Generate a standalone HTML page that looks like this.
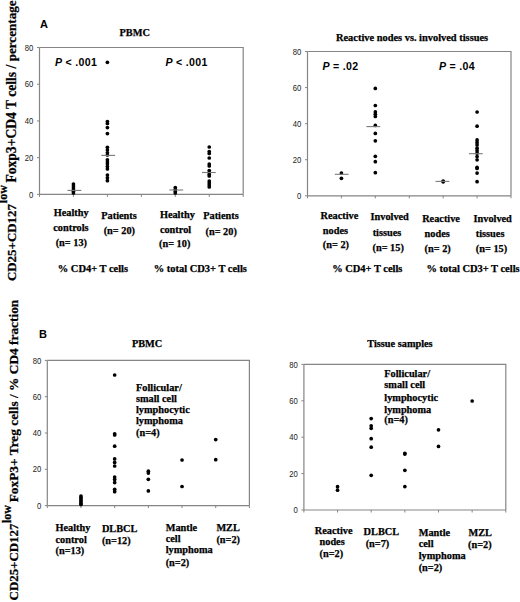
<!DOCTYPE html>
<html><head><meta charset="utf-8"><style>
html,body{margin:0;padding:0;background:#fff;}
svg{display:block;}
</style></head><body>
<svg width="520" height="602" viewBox="0 0 520 602">
<rect width="520" height="602" fill="#fff"/>
<path d="M39.5,194.4 H243.2 M39.5,47.5 V194.4" stroke="#858585" stroke-width="1.2" fill="none"/>
<path d="M39.5,47.5 H243.2 V194.4" stroke="#858585" stroke-width="1.2" fill="none"/>
<line x1="37.0" y1="194.40" x2="39.5" y2="194.40" stroke="#858585" stroke-width="1"/>
<text transform="translate(33.3,197.50) scale(1,1.17)" font-family="'Liberation Sans', sans-serif" font-size="7.7" fill="#222" text-anchor="end">0</text>
<line x1="37.0" y1="157.68" x2="39.5" y2="157.68" stroke="#858585" stroke-width="1"/>
<text transform="translate(33.3,160.78) scale(1,1.17)" font-family="'Liberation Sans', sans-serif" font-size="7.7" fill="#222" text-anchor="end">20</text>
<line x1="37.0" y1="120.95" x2="39.5" y2="120.95" stroke="#858585" stroke-width="1"/>
<text transform="translate(33.3,124.05) scale(1,1.17)" font-family="'Liberation Sans', sans-serif" font-size="7.7" fill="#222" text-anchor="end">40</text>
<line x1="37.0" y1="84.22" x2="39.5" y2="84.22" stroke="#858585" stroke-width="1"/>
<text transform="translate(33.3,87.32) scale(1,1.17)" font-family="'Liberation Sans', sans-serif" font-size="7.7" fill="#222" text-anchor="end">60</text>
<line x1="37.0" y1="47.50" x2="39.5" y2="47.50" stroke="#858585" stroke-width="1"/>
<text transform="translate(33.3,50.60) scale(1,1.17)" font-family="'Liberation Sans', sans-serif" font-size="7.7" fill="#222" text-anchor="end">80</text>
<line x1="39.50" y1="194.4" x2="39.50" y2="196.9" stroke="#858585" stroke-width="1"/>
<line x1="73.45" y1="194.4" x2="73.45" y2="196.9" stroke="#858585" stroke-width="1"/>
<line x1="107.40" y1="194.4" x2="107.40" y2="196.9" stroke="#858585" stroke-width="1"/>
<line x1="141.35" y1="194.4" x2="141.35" y2="196.9" stroke="#858585" stroke-width="1"/>
<line x1="175.30" y1="194.4" x2="175.30" y2="196.9" stroke="#858585" stroke-width="1"/>
<line x1="209.25" y1="194.4" x2="209.25" y2="196.9" stroke="#858585" stroke-width="1"/>
<line x1="243.20" y1="194.4" x2="243.20" y2="196.9" stroke="#858585" stroke-width="1"/>
<circle cx="73.45" cy="184.00" r="1.85" fill="#000"/>
<circle cx="73.45" cy="186.00" r="1.85" fill="#000"/>
<circle cx="73.45" cy="188.00" r="1.85" fill="#000"/>
<circle cx="73.45" cy="190.00" r="1.85" fill="#000"/>
<circle cx="73.45" cy="191.50" r="1.85" fill="#000"/>
<circle cx="73.45" cy="193.00" r="1.85" fill="#000"/>
<line x1="67.55" y1="190.40" x2="81.35" y2="190.40" stroke="#7a7a7a" stroke-width="1.1"/>
<circle cx="107.40" cy="62.30" r="1.85" fill="#000"/>
<circle cx="107.40" cy="121.50" r="1.85" fill="#000"/>
<circle cx="107.40" cy="123.50" r="1.85" fill="#000"/>
<circle cx="107.40" cy="127.60" r="1.85" fill="#000"/>
<circle cx="107.40" cy="133.60" r="1.85" fill="#000"/>
<circle cx="107.40" cy="147.30" r="1.85" fill="#000"/>
<circle cx="107.40" cy="150.00" r="1.85" fill="#000"/>
<circle cx="107.40" cy="152.80" r="1.85" fill="#000"/>
<circle cx="107.40" cy="155.00" r="1.85" fill="#000"/>
<circle cx="107.40" cy="159.80" r="1.85" fill="#000"/>
<circle cx="107.40" cy="162.00" r="1.85" fill="#000"/>
<circle cx="107.40" cy="164.00" r="1.85" fill="#000"/>
<circle cx="107.40" cy="166.50" r="1.85" fill="#000"/>
<circle cx="107.40" cy="169.00" r="1.85" fill="#000"/>
<circle cx="107.40" cy="175.00" r="1.85" fill="#000"/>
<circle cx="107.40" cy="177.80" r="1.85" fill="#000"/>
<circle cx="107.40" cy="180.70" r="1.85" fill="#000"/>
<line x1="101.30" y1="155.40" x2="115.10" y2="155.40" stroke="#7a7a7a" stroke-width="1.1"/>
<circle cx="175.30" cy="187.60" r="1.85" fill="#000"/>
<circle cx="175.30" cy="189.50" r="1.85" fill="#000"/>
<circle cx="175.30" cy="191.50" r="1.85" fill="#000"/>
<circle cx="175.30" cy="193.00" r="1.85" fill="#000"/>
<line x1="169.35" y1="190.00" x2="183.15" y2="190.00" stroke="#7a7a7a" stroke-width="1.1"/>
<circle cx="209.25" cy="147.00" r="1.85" fill="#000"/>
<circle cx="209.25" cy="151.50" r="1.85" fill="#000"/>
<circle cx="209.25" cy="153.50" r="1.85" fill="#000"/>
<circle cx="209.25" cy="158.00" r="1.85" fill="#000"/>
<circle cx="209.25" cy="164.00" r="1.85" fill="#000"/>
<circle cx="209.25" cy="166.00" r="1.85" fill="#000"/>
<circle cx="209.25" cy="170.50" r="1.85" fill="#000"/>
<circle cx="209.25" cy="172.50" r="1.85" fill="#000"/>
<circle cx="209.25" cy="174.50" r="1.85" fill="#000"/>
<circle cx="209.25" cy="176.00" r="1.85" fill="#000"/>
<circle cx="209.25" cy="181.00" r="1.85" fill="#000"/>
<circle cx="209.25" cy="183.00" r="1.85" fill="#000"/>
<circle cx="209.25" cy="185.00" r="1.85" fill="#000"/>
<circle cx="209.25" cy="187.00" r="1.85" fill="#000"/>
<line x1="201.95" y1="172.50" x2="215.75" y2="172.50" stroke="#7a7a7a" stroke-width="1.1"/>
<text x="55" y="65.6" font-family="'Liberation Sans', sans-serif" font-weight="bold" font-size="10.6" letter-spacing="0.3"><tspan font-style="italic">P</tspan> &lt; .001</text>
<text x="165.5" y="65.6" font-family="'Liberation Sans', sans-serif" font-weight="bold" font-size="10.6" letter-spacing="0.3"><tspan font-style="italic">P</tspan> &lt; .001</text>
<text x="40" y="27.5" font-family="'Liberation Sans', sans-serif" font-weight="bold" font-size="11">A</text>
<text x="119.5" y="36.3" font-family="'Liberation Serif', serif" font-weight="bold" stroke="#000" stroke-width="0.25" font-size="10.3" text-anchor="start" >PBMC</text>
<text x="53.7" y="215.6" font-family="'Liberation Serif', serif" font-weight="bold" stroke="#000" stroke-width="0.25" font-size="10.3" text-anchor="start" >Healthy</text>
<text x="53.3" y="230.8" font-family="'Liberation Serif', serif" font-weight="bold" stroke="#000" stroke-width="0.25" font-size="10.3" text-anchor="start" >controls</text>
<text x="55.7" y="245.8" font-family="'Liberation Serif', serif" font-weight="bold" stroke="#000" stroke-width="0.25" font-size="10.3" text-anchor="start" >(n= 13)</text>
<text x="101.3" y="218.8" font-family="'Liberation Serif', serif" font-weight="bold" stroke="#000" stroke-width="0.25" font-size="10.3" text-anchor="start" >Patients</text>
<text x="103.7" y="233.8" font-family="'Liberation Serif', serif" font-weight="bold" stroke="#000" stroke-width="0.25" font-size="10.3" text-anchor="start" >(n= 20)</text>
<text x="159.9" y="217.8" font-family="'Liberation Serif', serif" font-weight="bold" stroke="#000" stroke-width="0.25" font-size="10.3" text-anchor="start" >Healthy</text>
<text x="159.9" y="232.9" font-family="'Liberation Serif', serif" font-weight="bold" stroke="#000" stroke-width="0.25" font-size="10.3" text-anchor="start" >control</text>
<text x="159.0" y="247.0" font-family="'Liberation Serif', serif" font-weight="bold" stroke="#000" stroke-width="0.25" font-size="10.3" text-anchor="start" >(n= 10)</text>
<text x="203.2" y="219.4" font-family="'Liberation Serif', serif" font-weight="bold" stroke="#000" stroke-width="0.25" font-size="10.3" text-anchor="start" >Patients</text>
<text x="205.5" y="234.6" font-family="'Liberation Serif', serif" font-weight="bold" stroke="#000" stroke-width="0.25" font-size="10.3" text-anchor="start" >(n= 20)</text>
<text x="57.8" y="271.5" font-family="'Liberation Serif', serif" font-weight="bold" stroke="#000" stroke-width="0.25" font-size="10.45" text-anchor="start" >% CD4+ T cells</text>
<text x="153.8" y="271.8" font-family="'Liberation Serif', serif" font-weight="bold" stroke="#000" stroke-width="0.25" font-size="10.45" text-anchor="start" >% total CD3+ T cells</text>
<path d="M307.5,195.8 H511 M307.5,51.5 V195.8" stroke="#858585" stroke-width="1.2" fill="none"/>
<path d="M307.5,51.5 H511 V195.8" stroke="#858585" stroke-width="1.2" fill="none"/>
<line x1="305.0" y1="195.80" x2="307.5" y2="195.80" stroke="#858585" stroke-width="1"/>
<text transform="translate(301.2,198.90) scale(1,1.17)" font-family="'Liberation Sans', sans-serif" font-size="7.7" fill="#222" text-anchor="end">0</text>
<line x1="305.0" y1="159.73" x2="307.5" y2="159.73" stroke="#858585" stroke-width="1"/>
<text transform="translate(301.2,162.83) scale(1,1.17)" font-family="'Liberation Sans', sans-serif" font-size="7.7" fill="#222" text-anchor="end">20</text>
<line x1="305.0" y1="123.65" x2="307.5" y2="123.65" stroke="#858585" stroke-width="1"/>
<text transform="translate(301.2,126.75) scale(1,1.17)" font-family="'Liberation Sans', sans-serif" font-size="7.7" fill="#222" text-anchor="end">40</text>
<line x1="305.0" y1="87.58" x2="307.5" y2="87.58" stroke="#858585" stroke-width="1"/>
<text transform="translate(301.2,90.67) scale(1,1.17)" font-family="'Liberation Sans', sans-serif" font-size="7.7" fill="#222" text-anchor="end">60</text>
<line x1="305.0" y1="51.50" x2="307.5" y2="51.50" stroke="#858585" stroke-width="1"/>
<text transform="translate(301.2,54.60) scale(1,1.17)" font-family="'Liberation Sans', sans-serif" font-size="7.7" fill="#222" text-anchor="end">80</text>
<line x1="307.50" y1="195.8" x2="307.50" y2="198.3" stroke="#858585" stroke-width="1"/>
<line x1="341.42" y1="195.8" x2="341.42" y2="198.3" stroke="#858585" stroke-width="1"/>
<line x1="375.33" y1="195.8" x2="375.33" y2="198.3" stroke="#858585" stroke-width="1"/>
<line x1="409.25" y1="195.8" x2="409.25" y2="198.3" stroke="#858585" stroke-width="1"/>
<line x1="443.17" y1="195.8" x2="443.17" y2="198.3" stroke="#858585" stroke-width="1"/>
<line x1="477.08" y1="195.8" x2="477.08" y2="198.3" stroke="#858585" stroke-width="1"/>
<line x1="511.00" y1="195.8" x2="511.00" y2="198.3" stroke="#858585" stroke-width="1"/>
<circle cx="341.42" cy="173.10" r="1.85" fill="#000"/>
<circle cx="341.42" cy="178.30" r="1.85" fill="#000"/>
<line x1="334.80" y1="174.30" x2="348.60" y2="174.30" stroke="#7a7a7a" stroke-width="1.1"/>
<circle cx="375.33" cy="88.40" r="1.85" fill="#000"/>
<circle cx="375.33" cy="105.50" r="1.85" fill="#000"/>
<circle cx="375.33" cy="111.90" r="1.85" fill="#000"/>
<circle cx="375.33" cy="114.30" r="1.85" fill="#000"/>
<circle cx="375.33" cy="116.50" r="1.85" fill="#000"/>
<circle cx="375.33" cy="125.40" r="1.85" fill="#000"/>
<circle cx="375.33" cy="133.40" r="1.85" fill="#000"/>
<circle cx="375.33" cy="140.80" r="1.85" fill="#000"/>
<circle cx="375.33" cy="156.30" r="1.85" fill="#000"/>
<circle cx="375.33" cy="161.70" r="1.85" fill="#000"/>
<circle cx="375.33" cy="172.70" r="1.85" fill="#000"/>
<line x1="366.45" y1="126.60" x2="380.25" y2="126.60" stroke="#7a7a7a" stroke-width="1.1"/>
<circle cx="443.17" cy="181.00" r="1.85" fill="#000"/>
<circle cx="443.17" cy="181.80" r="1.85" fill="#000"/>
<line x1="435.55" y1="181.40" x2="449.35" y2="181.40" stroke="#7a7a7a" stroke-width="1.1"/>
<circle cx="477.08" cy="112.00" r="1.85" fill="#000"/>
<circle cx="477.08" cy="126.20" r="1.85" fill="#000"/>
<circle cx="477.08" cy="139.90" r="1.85" fill="#000"/>
<circle cx="477.08" cy="142.40" r="1.85" fill="#000"/>
<circle cx="477.08" cy="144.90" r="1.85" fill="#000"/>
<circle cx="477.08" cy="148.20" r="1.85" fill="#000"/>
<circle cx="477.08" cy="150.70" r="1.85" fill="#000"/>
<circle cx="477.08" cy="153.20" r="1.85" fill="#000"/>
<circle cx="477.08" cy="156.50" r="1.85" fill="#000"/>
<circle cx="477.08" cy="159.80" r="1.85" fill="#000"/>
<circle cx="477.08" cy="167.30" r="1.85" fill="#000"/>
<circle cx="477.08" cy="168.40" r="1.85" fill="#000"/>
<circle cx="477.08" cy="173.10" r="1.85" fill="#000"/>
<circle cx="477.08" cy="181.70" r="1.85" fill="#000"/>
<line x1="468.95" y1="153.70" x2="482.75" y2="153.70" stroke="#7a7a7a" stroke-width="1.1"/>
<text x="322.5" y="69.8" font-family="'Liberation Sans', sans-serif" font-weight="bold" font-size="10.6" letter-spacing="0.3"><tspan font-style="italic">P</tspan> = .02</text>
<text x="439" y="69.8" font-family="'Liberation Sans', sans-serif" font-weight="bold" font-size="10.6" letter-spacing="0.3"><tspan font-style="italic">P</tspan> = .04</text>
<text x="336.0" y="40.7" font-family="'Liberation Serif', serif" font-weight="bold" stroke="#000" stroke-width="0.25" font-size="10.4" text-anchor="start" >Reactive nodes vs. involved tissues</text>
<text x="320.5" y="218.5" font-family="'Liberation Serif', serif" font-weight="bold" stroke="#000" stroke-width="0.25" font-size="10.3" text-anchor="start" >Reactive</text>
<text x="322.8" y="233.5" font-family="'Liberation Serif', serif" font-weight="bold" stroke="#000" stroke-width="0.25" font-size="10.3" text-anchor="start" >nodes</text>
<text x="322.8" y="248.3" font-family="'Liberation Serif', serif" font-weight="bold" stroke="#000" stroke-width="0.25" font-size="10.3" text-anchor="start" >(n= 2)</text>
<text x="370.5" y="220.4" font-family="'Liberation Serif', serif" font-weight="bold" stroke="#000" stroke-width="0.25" font-size="10.3" text-anchor="start" >Involved</text>
<text x="372.7" y="235.8" font-family="'Liberation Serif', serif" font-weight="bold" stroke="#000" stroke-width="0.25" font-size="10.3" text-anchor="start" >tissues</text>
<text x="372.5" y="250.8" font-family="'Liberation Serif', serif" font-weight="bold" stroke="#000" stroke-width="0.25" font-size="10.3" text-anchor="start" >(n= 15)</text>
<text x="422.2" y="222" font-family="'Liberation Serif', serif" font-weight="bold" stroke="#000" stroke-width="0.25" font-size="10.3" text-anchor="start" >Reactive</text>
<text x="424.6" y="237" font-family="'Liberation Serif', serif" font-weight="bold" stroke="#000" stroke-width="0.25" font-size="10.3" text-anchor="start" >nodes</text>
<text x="424.6" y="252" font-family="'Liberation Serif', serif" font-weight="bold" stroke="#000" stroke-width="0.25" font-size="10.3" text-anchor="start" >(n= 2)</text>
<text x="473.5" y="221.5" font-family="'Liberation Serif', serif" font-weight="bold" stroke="#000" stroke-width="0.25" font-size="10.3" text-anchor="start" >Involved</text>
<text x="475.8" y="236.9" font-family="'Liberation Serif', serif" font-weight="bold" stroke="#000" stroke-width="0.25" font-size="10.3" text-anchor="start" >tissues</text>
<text x="475.8" y="252.1" font-family="'Liberation Serif', serif" font-weight="bold" stroke="#000" stroke-width="0.25" font-size="10.3" text-anchor="start" >(n= 15)</text>
<text x="332.2" y="271.5" font-family="'Liberation Serif', serif" font-weight="bold" stroke="#000" stroke-width="0.25" font-size="10.45" text-anchor="start" >% CD4+ T cells</text>
<text x="426.5" y="272.4" font-family="'Liberation Serif', serif" font-weight="bold" stroke="#000" stroke-width="0.25" font-size="10.45" text-anchor="start" >% total CD3+ T cells</text>
<path d="M47.3,505.6 H249.4 M47.3,360.4 V505.6" stroke="#858585" stroke-width="1.2" fill="none"/>
<path d="M47.3,360.4 H249.4 V505.6" stroke="#858585" stroke-width="1.2" fill="none"/>
<line x1="44.8" y1="505.60" x2="47.3" y2="505.60" stroke="#858585" stroke-width="1"/>
<text transform="translate(41.4,508.70) scale(1,1.17)" font-family="'Liberation Sans', sans-serif" font-size="7.7" fill="#222" text-anchor="end">0</text>
<line x1="44.8" y1="469.30" x2="47.3" y2="469.30" stroke="#858585" stroke-width="1"/>
<text transform="translate(41.4,472.40) scale(1,1.17)" font-family="'Liberation Sans', sans-serif" font-size="7.7" fill="#222" text-anchor="end">20</text>
<line x1="44.8" y1="433.00" x2="47.3" y2="433.00" stroke="#858585" stroke-width="1"/>
<text transform="translate(41.4,436.10) scale(1,1.17)" font-family="'Liberation Sans', sans-serif" font-size="7.7" fill="#222" text-anchor="end">40</text>
<line x1="44.8" y1="396.70" x2="47.3" y2="396.70" stroke="#858585" stroke-width="1"/>
<text transform="translate(41.4,399.80) scale(1,1.17)" font-family="'Liberation Sans', sans-serif" font-size="7.7" fill="#222" text-anchor="end">60</text>
<line x1="44.8" y1="360.40" x2="47.3" y2="360.40" stroke="#858585" stroke-width="1"/>
<text transform="translate(41.4,363.50) scale(1,1.17)" font-family="'Liberation Sans', sans-serif" font-size="7.7" fill="#222" text-anchor="end">80</text>
<line x1="47.30" y1="505.6" x2="47.30" y2="508.1" stroke="#858585" stroke-width="1"/>
<line x1="80.98" y1="505.6" x2="80.98" y2="508.1" stroke="#858585" stroke-width="1"/>
<line x1="114.67" y1="505.6" x2="114.67" y2="508.1" stroke="#858585" stroke-width="1"/>
<line x1="148.35" y1="505.6" x2="148.35" y2="508.1" stroke="#858585" stroke-width="1"/>
<line x1="182.03" y1="505.6" x2="182.03" y2="508.1" stroke="#858585" stroke-width="1"/>
<line x1="215.72" y1="505.6" x2="215.72" y2="508.1" stroke="#858585" stroke-width="1"/>
<line x1="249.40" y1="505.6" x2="249.40" y2="508.1" stroke="#858585" stroke-width="1"/>
<circle cx="80.98" cy="496.00" r="1.85" fill="#000"/>
<circle cx="80.98" cy="497.50" r="1.85" fill="#000"/>
<circle cx="80.98" cy="499.00" r="1.85" fill="#000"/>
<circle cx="80.98" cy="500.50" r="1.85" fill="#000"/>
<circle cx="80.98" cy="502.00" r="1.85" fill="#000"/>
<circle cx="80.98" cy="503.50" r="1.85" fill="#000"/>
<circle cx="80.98" cy="504.50" r="1.85" fill="#000"/>
<circle cx="114.67" cy="375.00" r="1.85" fill="#000"/>
<circle cx="114.67" cy="433.80" r="1.85" fill="#000"/>
<circle cx="114.67" cy="435.00" r="1.85" fill="#000"/>
<circle cx="114.67" cy="446.20" r="1.85" fill="#000"/>
<circle cx="114.67" cy="458.90" r="1.85" fill="#000"/>
<circle cx="114.67" cy="462.40" r="1.85" fill="#000"/>
<circle cx="114.67" cy="466.00" r="1.85" fill="#000"/>
<circle cx="114.67" cy="477.00" r="1.85" fill="#000"/>
<circle cx="114.67" cy="479.40" r="1.85" fill="#000"/>
<circle cx="114.67" cy="482.60" r="1.85" fill="#000"/>
<circle cx="114.67" cy="489.30" r="1.85" fill="#000"/>
<circle cx="114.67" cy="491.70" r="1.85" fill="#000"/>
<circle cx="148.35" cy="471.20" r="1.85" fill="#000"/>
<circle cx="148.35" cy="473.10" r="1.85" fill="#000"/>
<circle cx="148.35" cy="479.30" r="1.85" fill="#000"/>
<circle cx="148.35" cy="490.90" r="1.85" fill="#000"/>
<circle cx="182.03" cy="460.00" r="1.85" fill="#000"/>
<circle cx="182.03" cy="486.50" r="1.85" fill="#000"/>
<circle cx="215.72" cy="439.60" r="1.85" fill="#000"/>
<circle cx="215.72" cy="459.70" r="1.85" fill="#000"/>
<text x="39" y="338.1" font-family="'Liberation Sans', sans-serif" font-weight="bold" font-size="11">B</text>
<text x="131.9" y="346.7" font-family="'Liberation Serif', serif" font-weight="bold" stroke="#000" stroke-width="0.25" font-size="10.3" text-anchor="start" >PBMC</text>
<text x="136.0" y="390.5" font-family="'Liberation Serif', serif" font-weight="bold" stroke="#000" stroke-width="0.25" font-size="10.3" text-anchor="start" >Follicular/</text>
<text x="136.0" y="401.8" font-family="'Liberation Serif', serif" font-weight="bold" stroke="#000" stroke-width="0.25" font-size="10.3" text-anchor="start" >small cell</text>
<text x="136.0" y="413" font-family="'Liberation Serif', serif" font-weight="bold" stroke="#000" stroke-width="0.25" font-size="10.3" text-anchor="start" >lymphocytic</text>
<text x="136.0" y="424.4" font-family="'Liberation Serif', serif" font-weight="bold" stroke="#000" stroke-width="0.25" font-size="10.3" text-anchor="start" >lymphoma</text>
<text x="136.0" y="435.9" font-family="'Liberation Serif', serif" font-weight="bold" stroke="#000" stroke-width="0.25" font-size="10.3" text-anchor="start" >(n=4)</text>
<text x="55.5" y="531.4" font-family="'Liberation Serif', serif" font-weight="bold" stroke="#000" stroke-width="0.25" font-size="10.3" text-anchor="start" >Healthy</text>
<text x="55.5" y="542.7" font-family="'Liberation Serif', serif" font-weight="bold" stroke="#000" stroke-width="0.25" font-size="10.3" text-anchor="start" >control</text>
<text x="55.5" y="554.4" font-family="'Liberation Serif', serif" font-weight="bold" stroke="#000" stroke-width="0.25" font-size="10.3" text-anchor="start" >(n=13)</text>
<text x="101.9" y="532" font-family="'Liberation Serif', serif" font-weight="bold" stroke="#000" stroke-width="0.25" font-size="10.3" text-anchor="start" >DLBCL</text>
<text x="101.9" y="543.5" font-family="'Liberation Serif', serif" font-weight="bold" stroke="#000" stroke-width="0.25" font-size="10.3" text-anchor="start" >(n=12)</text>
<text x="165.7" y="530.6" font-family="'Liberation Serif', serif" font-weight="bold" stroke="#000" stroke-width="0.25" font-size="10.3" text-anchor="start" >Mantle</text>
<text x="165.7" y="542.2" font-family="'Liberation Serif', serif" font-weight="bold" stroke="#000" stroke-width="0.25" font-size="10.3" text-anchor="start" >cell</text>
<text x="165.7" y="553.4" font-family="'Liberation Serif', serif" font-weight="bold" stroke="#000" stroke-width="0.25" font-size="10.3" text-anchor="start" >lymphoma</text>
<text x="165.7" y="566" font-family="'Liberation Serif', serif" font-weight="bold" stroke="#000" stroke-width="0.25" font-size="10.3" text-anchor="start" >(n=2)</text>
<text x="216.4" y="531.4" font-family="'Liberation Serif', serif" font-weight="bold" stroke="#000" stroke-width="0.25" font-size="10.3" text-anchor="start" >MZL</text>
<text x="216.4" y="542.7" font-family="'Liberation Serif', serif" font-weight="bold" stroke="#000" stroke-width="0.25" font-size="10.3" text-anchor="start" >(n=2)</text>
<path d="M303.9,510 H505.8 M303.9,364.4 V510" stroke="#858585" stroke-width="1.2" fill="none"/>
<path d="M303.9,364.4 H505.8 V510" stroke="#858585" stroke-width="1.2" fill="none"/>
<line x1="301.4" y1="510.00" x2="303.9" y2="510.00" stroke="#858585" stroke-width="1"/>
<text transform="translate(297.8,513.10) scale(1,1.17)" font-family="'Liberation Sans', sans-serif" font-size="7.7" fill="#222" text-anchor="end">0</text>
<line x1="301.4" y1="473.60" x2="303.9" y2="473.60" stroke="#858585" stroke-width="1"/>
<text transform="translate(297.8,476.70) scale(1,1.17)" font-family="'Liberation Sans', sans-serif" font-size="7.7" fill="#222" text-anchor="end">20</text>
<line x1="301.4" y1="437.20" x2="303.9" y2="437.20" stroke="#858585" stroke-width="1"/>
<text transform="translate(297.8,440.30) scale(1,1.17)" font-family="'Liberation Sans', sans-serif" font-size="7.7" fill="#222" text-anchor="end">40</text>
<line x1="301.4" y1="400.80" x2="303.9" y2="400.80" stroke="#858585" stroke-width="1"/>
<text transform="translate(297.8,403.90) scale(1,1.17)" font-family="'Liberation Sans', sans-serif" font-size="7.7" fill="#222" text-anchor="end">60</text>
<line x1="301.4" y1="364.40" x2="303.9" y2="364.40" stroke="#858585" stroke-width="1"/>
<text transform="translate(297.8,367.50) scale(1,1.17)" font-family="'Liberation Sans', sans-serif" font-size="7.7" fill="#222" text-anchor="end">80</text>
<line x1="303.90" y1="510" x2="303.90" y2="512.5" stroke="#858585" stroke-width="1"/>
<line x1="337.55" y1="510" x2="337.55" y2="512.5" stroke="#858585" stroke-width="1"/>
<line x1="371.20" y1="510" x2="371.20" y2="512.5" stroke="#858585" stroke-width="1"/>
<line x1="404.85" y1="510" x2="404.85" y2="512.5" stroke="#858585" stroke-width="1"/>
<line x1="438.50" y1="510" x2="438.50" y2="512.5" stroke="#858585" stroke-width="1"/>
<line x1="472.15" y1="510" x2="472.15" y2="512.5" stroke="#858585" stroke-width="1"/>
<line x1="505.80" y1="510" x2="505.80" y2="512.5" stroke="#858585" stroke-width="1"/>
<circle cx="337.55" cy="486.70" r="1.85" fill="#000"/>
<circle cx="337.55" cy="490.20" r="1.85" fill="#000"/>
<circle cx="371.20" cy="418.60" r="1.85" fill="#000"/>
<circle cx="371.20" cy="425.80" r="1.85" fill="#000"/>
<circle cx="371.20" cy="428.30" r="1.85" fill="#000"/>
<circle cx="371.20" cy="438.70" r="1.85" fill="#000"/>
<circle cx="371.20" cy="447.20" r="1.85" fill="#000"/>
<circle cx="371.20" cy="475.30" r="1.85" fill="#000"/>
<circle cx="404.85" cy="453.30" r="1.85" fill="#000"/>
<circle cx="404.85" cy="454.10" r="1.85" fill="#000"/>
<circle cx="404.85" cy="470.30" r="1.85" fill="#000"/>
<circle cx="404.85" cy="486.60" r="1.85" fill="#000"/>
<circle cx="438.50" cy="429.80" r="1.85" fill="#000"/>
<circle cx="438.50" cy="446.40" r="1.85" fill="#000"/>
<circle cx="472.15" cy="401.00" r="1.85" fill="#000"/>
<text x="367.3" y="346.6" font-family="'Liberation Serif', serif" font-weight="bold" stroke="#000" stroke-width="0.25" font-size="10.3" text-anchor="start" >Tissue samples</text>
<text x="384.3" y="376.6" font-family="'Liberation Serif', serif" font-weight="bold" stroke="#000" stroke-width="0.25" font-size="10.3" text-anchor="start" >Follicular/</text>
<text x="384.3" y="388.4" font-family="'Liberation Serif', serif" font-weight="bold" stroke="#000" stroke-width="0.25" font-size="10.3" text-anchor="start" >small cell</text>
<text x="384.3" y="400.8" font-family="'Liberation Serif', serif" font-weight="bold" stroke="#000" stroke-width="0.25" font-size="10.3" text-anchor="start" >lymphocytic</text>
<text x="384.3" y="412.5" font-family="'Liberation Serif', serif" font-weight="bold" stroke="#000" stroke-width="0.25" font-size="10.3" text-anchor="start" >lymphoma</text>
<text x="384.3" y="423.2" font-family="'Liberation Serif', serif" font-weight="bold" stroke="#000" stroke-width="0.25" font-size="10.3" text-anchor="start" >(n=4)</text>
<text x="314.8" y="533.8" font-family="'Liberation Serif', serif" font-weight="bold" stroke="#000" stroke-width="0.25" font-size="10.3" text-anchor="start" >Reactive</text>
<text x="319.5" y="545.1" font-family="'Liberation Serif', serif" font-weight="bold" stroke="#000" stroke-width="0.25" font-size="10.3" text-anchor="start" >nodes</text>
<text x="319.5" y="556.7" font-family="'Liberation Serif', serif" font-weight="bold" stroke="#000" stroke-width="0.25" font-size="10.3" text-anchor="start" >(n=2)</text>
<text x="363.6" y="535.2" font-family="'Liberation Serif', serif" font-weight="bold" stroke="#000" stroke-width="0.25" font-size="10.3" text-anchor="start" >DLBCL</text>
<text x="365.7" y="547.3" font-family="'Liberation Serif', serif" font-weight="bold" stroke="#000" stroke-width="0.25" font-size="10.3" text-anchor="start" >(n=7)</text>
<text x="418.7" y="535.6" font-family="'Liberation Serif', serif" font-weight="bold" stroke="#000" stroke-width="0.25" font-size="10.3" text-anchor="start" >Mantle</text>
<text x="418.7" y="547.3" font-family="'Liberation Serif', serif" font-weight="bold" stroke="#000" stroke-width="0.25" font-size="10.3" text-anchor="start" >cell</text>
<text x="418.7" y="558.9" font-family="'Liberation Serif', serif" font-weight="bold" stroke="#000" stroke-width="0.25" font-size="10.3" text-anchor="start" >lymphoma</text>
<text x="418.7" y="571" font-family="'Liberation Serif', serif" font-weight="bold" stroke="#000" stroke-width="0.25" font-size="10.3" text-anchor="start" >(n=2)</text>
<text x="468.5" y="536.4" font-family="'Liberation Serif', serif" font-weight="bold" stroke="#000" stroke-width="0.25" font-size="10.3" text-anchor="start" >MZL</text>
<text x="468.0" y="548" font-family="'Liberation Serif', serif" font-weight="bold" stroke="#000" stroke-width="0.25" font-size="10.3" text-anchor="start" >(n=2)</text>
<text transform="translate(15.5,281.1) rotate(-90)" font-family="'Liberation Serif', serif" font-weight="bold" stroke="#000" stroke-width="0.25" font-size="12.95">CD25+CD127</text>
<text transform="translate(7.4,203.2) rotate(-90)" font-family="'Liberation Serif', serif" font-weight="bold" stroke="#000" stroke-width="0.25" font-size="12">low</text>
<text transform="translate(15.5,182.6) rotate(-90)" font-family="'Liberation Serif', serif" font-weight="bold" stroke="#000" stroke-width="0.25" font-size="13.6">Foxp3+CD4 T cells /</text>
<text transform="translate(15.5,61.3) rotate(-90)" font-family="'Liberation Serif', serif" font-weight="bold" stroke="#000" stroke-width="0.25" font-size="13.1">percentage</text>
<text transform="translate(17.5,600.4) rotate(-90)" font-family="'Liberation Serif', serif" font-weight="bold" stroke="#000" stroke-width="0.25" font-size="12.9">CD25+CD127</text>
<text transform="translate(11.4,523.0) rotate(-90)" font-family="'Liberation Serif', serif" font-weight="bold" stroke="#000" stroke-width="0.25" font-size="12">low</text>
<text transform="translate(17.5,502.3) rotate(-90)" font-family="'Liberation Serif', serif" font-weight="bold" stroke="#000" stroke-width="0.25" font-size="13.35">FoxP3+ Treg cells / % CD4 fraction</text>
</svg>
</body></html>
